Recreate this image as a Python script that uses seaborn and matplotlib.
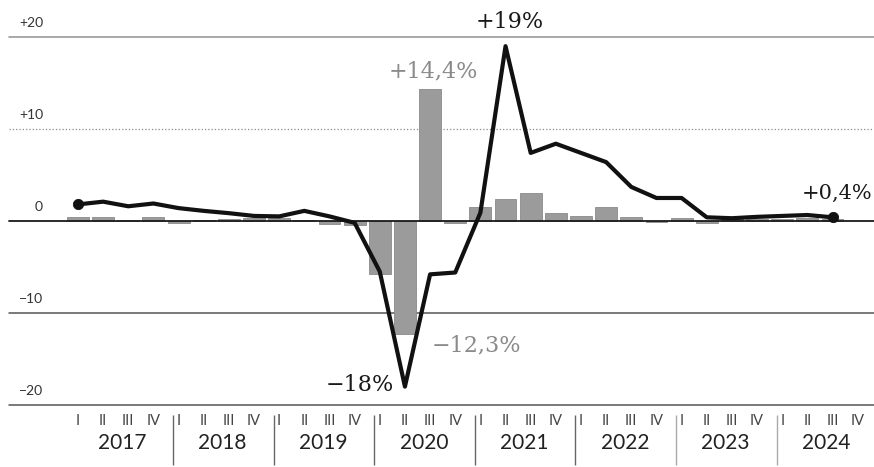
import numpy as np
import pandas as pd
import seaborn as sns
import matplotlib.pyplot as plt

## chart data
years = ["2017", "2018", "2019", "2020", "2021", "2022", "2023", "2024"]
quarters = ["I", "II", "III", "IV"]

# quarter on quarter change (bars), 2017 I .. 2024 III
bar_values = [0.4, 0.4, 0.15, 0.4,
              -0.2, 0.15, 0.2, 0.3,
              0.3, 0.1, -0.3, -0.4,
              -5.8, -12.3, 14.4, -0.2,
              1.5, 2.4, 3.0, 0.9,
              0.5, 1.5, 0.4, -0.1,
              0.3, -0.2, 0.2, 0.2,
              0.2, 0.3, 0.2]

# year on year change (line), 2017 I .. 2024 III
line_values = [1.8, 2.1, 1.6, 1.9,
               1.4, 1.1, 0.85, 0.55,
               0.5, 1.1, 0.5, -0.2,
               -5.5, -18.0, -5.8, -5.6,
               0.9, 19.0, 7.4, 8.4,
               7.4, 6.4, 3.7, 2.5,
               2.5, 0.4, 0.3, 0.45,
               0.55, 0.65, 0.4]

y_ticks = [20, 10, 0, -10, -20]
y_tick_labels = ["+20", "+10", "0", "\u221210", "\u221220"]

bar_labels = ["+14,4%", "\u221212,3%"]
line_labels = ["+19%", "\u221218%", "+0,4%"]


def create_plot():
    sns.set_theme(style="white")
    plt.rcParams["font.family"] = ["Lato", "DejaVu Sans"]

    fig = plt.figure(figsize=(8.74, 4.67), dpi=100)
    ax = fig.add_axes([0, 0, 1, 1])

    df_bar = pd.DataFrame({"q": np.arange(len(bar_values)), "v": bar_values})
    df_line = pd.DataFrame({"q": np.arange(len(line_values)), "v": line_values})

    # grid lines
    grid_styles = {20: ("#9a9a9a", "-", 1.2), 10: ("#8a8a8a", ":", 0.9),
                   -10: ("#555555", "-", 1.1), -20: ("#555555", "-", 1.1)}
    for t, (c, ls, lw) in grid_styles.items():
        ax.axhline(t, xmin=0.0103, xmax=1, color=c, ls=ls, lw=lw, zorder=0)

    # bars
    sns.barplot(data=df_bar, x="q", y="v", native_scale=True, width=0.87,
                color="#9b9b9b", saturation=1, edgecolor="#8a8a8a",
                linewidth=0.6, ax=ax, zorder=2)

    ax.axhline(0, xmin=0.0103, xmax=1, color="#1a1a1a", lw=1.3, zorder=3)

    # line
    sns.lineplot(data=df_line, x="q", y="v", color="#111111", lw=3.0,
                 sort=False, ax=ax, zorder=4,
                 solid_joinstyle="round", solid_capstyle="round")
    ends = df_line.iloc[[0, -1]]
    sns.scatterplot(data=ends, x="q", y="v", color="#111111", s=55,
                    edgecolor="#111111", ax=ax, zorder=5)

    # axis limits mapped to the picture
    ax.set_xlim(-3.10, 31.65)
    ax.set_ylim(-26.74, 24.02)
    ax.axis("off")

    # y labels above the grid lines
    for t, lab in zip(y_ticks, y_tick_labels):
        ax.text(-1.39, t + 1.5, lab, ha="right", va="center",
                fontsize=10, color="#333333")

    # quarter numerals, separators and years
    for k, yr in enumerate(years):
        for j, q in enumerate(quarters):
            ax.text(4 * k + j, -21.74, q, ha="center", va="center",
                    fontsize=10.5, color="#444444")
        ax.text(4 * k + 1.75, -24.13, yr, ha="center", va="center",
                fontsize=15, color="#222222")
        if k > 0:
            ax.vlines(4 * k - 0.22, -26.5, -21.1,
                      color="#666666" if k < 6 else "#aaaaaa", lw=1.0)

    # annotations
    ser = ["DejaVu Serif"]
    dark, light = "#1a1a1a", "#8a8a8a"
    ax.text(17.18, 21.63, line_labels[0], ha="center", va="center",
            fontsize=16, color=dark, family=ser)
    ax.text(11.21, -17.83, line_labels[1], ha="center", va="center",
            fontsize=16, color=dark, family=ser)
    ax.text(31.58, 3.04, line_labels[2], ha="right", va="center",
            fontsize=15, color=dark, family=ser)
    ax.text(14.12, 16.3, bar_labels[0], ha="center", va="center",
            fontsize=16, color=light, family=ser)
    ax.text(14.08, -13.5, bar_labels[1], ha="left", va="center",
            fontsize=16, color=light, family=ser)

    fig.savefig("out.png", dpi=100)


if __name__ == "__main__":
    create_plot()
